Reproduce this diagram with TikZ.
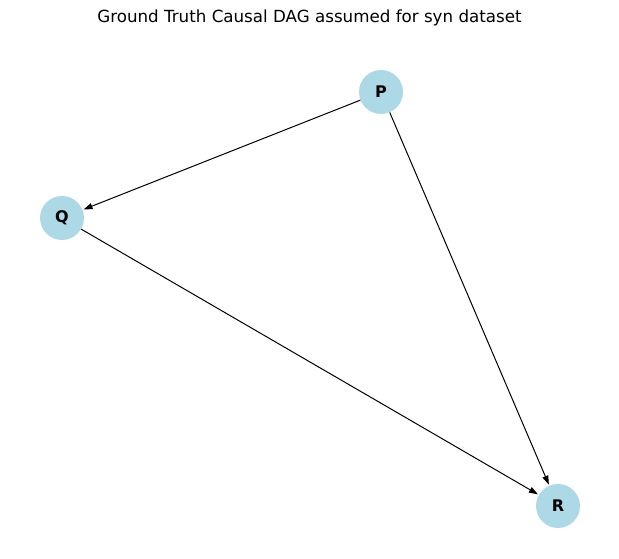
\documentclass[tikz,border=0pt]{standalone}
\usepackage{fontspec}
\setmainfont{DejaVu Sans}
\usetikzlibrary{arrows.meta}
\definecolor{nodeblue}{HTML}{ADD8E6}
\begin{document}
\begin{tikzpicture}[x=1pt,y=1pt,
  vert/.style={circle,fill=nodeblue,minimum size=44pt,inner sep=0pt,font=\fontsize{16}{18}\selectfont\bfseries},
  edge/.style={-{Triangle[length=9pt,width=6pt]},line width=1pt,shorten >=1pt}]
\useasboundingbox (0,0) rectangle (619,559);
\node[font=\fontsize{16.7}{20}\selectfont] (title) at (309.5,541) {Ground Truth Causal DAG assumed for syn dataset};
\node[vert] (P) at (381,467) {P};
\node[vert] (Q) at (62,341) {Q};
\node[vert] (R) at (558,53) {R};
\draw[edge] (P) -- (Q);
\draw[edge] (P) -- (R);
\draw[edge] (Q) -- (R);
\end{tikzpicture}
\end{document}
